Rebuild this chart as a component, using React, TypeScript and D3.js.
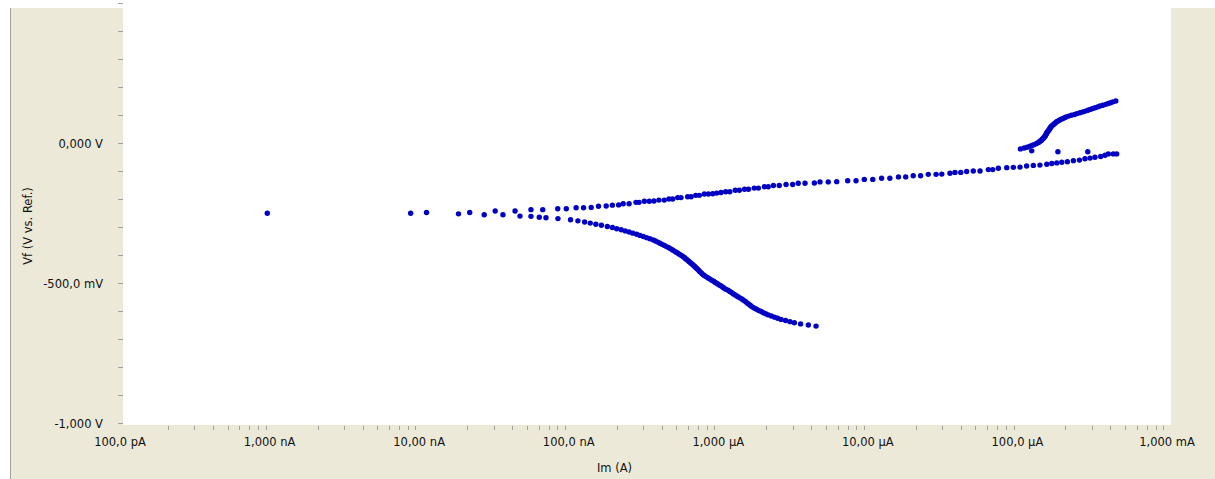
import React from "react";
import * as d3 from "d3";

// Cathodic branch (forward scan below the corrosion potential)
const cathodicCurrent = [
  9.22e-10, 8.38e-9, 1.07e-8, 1.75e-8, 2.08e-8, 2.6e-8, 3.47e-8, 4.51e-8, 5.34e-8, 6.07e-8, 6.73e-8,
  8.09e-8, 9.82e-8, 1.1e-7, 1.22e-7, 1.33e-7, 1.45e-7, 1.58e-7, 1.73e-7, 1.87e-7, 2.0e-7,
  2.14e-7, 2.28e-7, 2.42e-7, 2.56e-7, 2.72e-7, 2.86e-7, 3.01e-7, 3.17e-7, 3.33e-7, 3.51e-7,
  3.63e-7, 3.76e-7, 3.89e-7, 4.02e-7, 4.17e-7, 4.31e-7, 4.46e-7, 4.6e-7, 4.72e-7, 4.86e-7,
  4.99e-7, 5.13e-7, 5.27e-7, 5.42e-7, 5.57e-7, 5.69e-7, 5.79e-7, 5.93e-7, 6.05e-7, 6.17e-7,
  6.3e-7, 6.43e-7, 6.56e-7, 6.67e-7, 6.79e-7, 6.92e-7, 7.05e-7, 7.14e-7, 7.28e-7, 7.41e-7,
  7.55e-7, 7.73e-7, 7.94e-7, 8.18e-7, 8.39e-7, 8.63e-7, 8.89e-7, 9.12e-7, 9.38e-7, 9.62e-7,
  9.91e-7, 1.02e-6, 1.04e-6, 1.07e-6, 1.11e-6, 1.14e-6, 1.17e-6, 1.2e-6, 1.23e-6, 1.27e-6,
  1.3e-6, 1.34e-6, 1.38e-6, 1.41e-6, 1.45e-6, 1.48e-6, 1.51e-6, 1.55e-6, 1.58e-6, 1.62e-6,
  1.67e-6, 1.72e-6, 1.78e-6, 1.85e-6, 1.91e-6, 1.98e-6, 2.06e-6, 2.16e-6, 2.27e-6, 2.38e-6,
  2.51e-6, 2.69e-6, 2.88e-6, 3.08e-6, 3.39e-6, 3.82e-6, 4.3e-6,
];
const cathodicPotentialMv = [
  -251, -251, -248, -253, -248, -256, -256, -261, -262, -265, -267,
  -270, -274, -278, -282, -286, -290, -294, -298, -302, -306,
  -310, -314, -318, -322, -326, -330, -334, -338, -342, -346,
  -350, -354, -358, -362, -366, -370, -374, -378, -382, -386,
  -390, -394, -398, -402, -406, -410, -414, -418, -422, -426,
  -430, -434, -438, -442, -446, -450, -454, -458, -462, -466,
  -470, -474, -478, -482, -486, -490, -494, -498, -502, -506,
  -510, -514, -518, -522, -526, -530, -534, -538, -542, -546,
  -550, -554, -558, -562, -566, -570, -574, -578, -582, -586,
  -590, -594, -598, -602, -606, -610, -614, -618, -622, -626,
  -630, -634, -638, -642, -646, -650, -654,
];

// Anodic branch (forward scan above the corrosion potential)
const anodicCurrent = [
  3.08e-8, 4.18e-8, 5.34e-8, 6.4e-8, 8.06e-8, 9.2e-8, 1.07e-7, 1.2e-7, 1.35e-7, 1.51e-7,
  1.7e-7, 1.87e-7, 2.06e-7, 2.21e-7, 2.42e-7, 2.69e-7, 2.82e-7, 3.06e-7, 3.3e-7, 3.55e-7,
  3.83e-7, 4.16e-7, 4.47e-7, 4.73e-7, 5.11e-7, 5.38e-7, 5.96e-7, 6.28e-7, 6.75e-7, 7.13e-7,
  7.7e-7, 8.19e-7, 8.76e-7, 9.32e-7, 9.96e-7, 1.07e-6, 1.14e-6, 1.24e-6, 1.32e-6, 1.43e-6,
  1.52e-6, 1.66e-6, 1.77e-6, 1.94e-6, 2.06e-6, 2.23e-6, 2.44e-6, 2.71e-6, 3.0e-6, 3.27e-6,
  3.63e-6, 4.19e-6, 4.57e-6, 5.19e-6, 5.91e-6, 7.0e-6, 7.96e-6, 9.04e-6, 1.03e-5, 1.18e-5,
  1.34e-5, 1.53e-5, 1.71e-5, 1.92e-5, 2.15e-5, 2.42e-5, 2.73e-5, 2.98e-5, 3.38e-5, 3.65e-5,
  3.99e-5, 4.37e-5, 4.84e-5, 5.37e-5, 6.1e-5, 6.53e-5, 7.12e-5, 8.1e-5, 8.97e-5, 9.94e-5,
  1.1e-4, 1.22e-4, 1.35e-4, 1.5e-4, 1.62e-4, 1.75e-4, 1.89e-4, 2.06e-4, 2.26e-4, 2.48e-4,
  2.7e-4, 2.92e-4, 3.15e-4, 3.44e-4, 3.68e-4, 3.87e-4, 4.18e-4, 4.4e-4,
];
const anodicPotentialMv = [
  -243, -243, -238, -238, -235, -235, -231, -231, -230, -226,
  -225, -222, -221, -217, -217, -212, -212, -208, -208, -207,
  -204, -204, -200, -200, -195, -195, -192, -192, -187, -187,
  -182, -182, -181, -179, -177, -174, -174, -169, -169, -165,
  -165, -161, -161, -156, -156, -152, -152, -148, -148, -144,
  -144, -143, -139, -139, -138, -135, -135, -130, -130, -126,
  -126, -121, -121, -117, -117, -112, -112, -111, -108, -105,
  -105, -102, -100, -100, -95, -95, -90, -88, -87, -86,
  -82, -80, -79, -76, -73, -71, -69, -67, -63, -61,
  -56, -54, -51, -48, -44, -39, -39, -39,
];

// Stray readings between the two high-current branches
const strayCurrent = [1.19e-4, 1.78e-4, 2.82e-4];
const strayPotentialMv = [-28, -31, -31];

// Upper high-current branch
const upperCurrent = [
  1.0e-4, 1.06e-4, 1.11e-4, 1.15e-4, 1.19e-4, 1.23e-4, 1.27e-4, 1.3e-4, 1.33e-4, 1.35e-4,
  1.38e-4, 1.39e-4, 1.41e-4, 1.43e-4, 1.44e-4, 1.46e-4, 1.47e-4, 1.48e-4, 1.49e-4, 1.5e-4,
  1.51e-4, 1.53e-4, 1.54e-4, 1.56e-4, 1.57e-4, 1.58e-4, 1.6e-4, 1.61e-4, 1.64e-4, 1.66e-4,
  1.69e-4, 1.71e-4, 1.74e-4, 1.77e-4, 1.82e-4, 1.86e-4, 1.91e-4, 1.97e-4, 2.02e-4, 2.1e-4,
  2.19e-4, 2.3e-4, 2.39e-4, 2.5e-4, 2.61e-4, 2.72e-4, 2.83e-4, 2.93e-4, 3.04e-4, 3.16e-4,
  3.28e-4, 3.4e-4, 3.56e-4, 3.72e-4, 3.86e-4, 4.01e-4, 4.15e-4, 4.34e-4,
];
const upperPotentialMv = [
  -21, -18, -15, -12, -9, -6, -3, 0, 3, 6,
  9, 12, 15, 18, 21, 24, 27, 30, 33, 36,
  39, 42, 45, 48, 51, 54, 57, 60, 63, 66,
  69, 72, 75, 78, 81, 84, 87, 90, 93, 96,
  99, 102, 105, 108, 111, 114, 117, 120, 123, 126,
  129, 132, 135, 138, 141, 144, 147, 150,
];

// Axis labels
const xDecades = [1e-10, 1e-9, 1e-8, 1e-7, 1e-6, 1e-5, 1e-4, 1e-3];
const xDecadeLabels = ["100,0 pA", "1,000 nA", "10,00 nA", "100,0 nA", "1,000 µA", "10,00 µA", "100,0 µA", "1,000 mA"];
const yLabelValues = [0, -0.5, -1];
const yLabelTexts = ["0,000 V", "-500,0 mV", "-1,000 V"];

const W = 1215;
const H = 479;
const PANEL = "#ECE9D8";
const DOT = "#0000C4";
const FONT = "'DejaVu Sans', Verdana, sans-serif";
const FONT_SIZE = 11.5;

export default function App() {
  const x = d3.scaleLog().domain([1e-10, 1e-3]).range([123, 1170]);
  const y = d3.scaleLinear().domain([-1, 0.5]).range([423, 3]);

  // minor ticks at 2..9 within each decade
  const minorX = x.ticks().filter((t) => {
    const l = Math.log10(t);
    return Math.abs(l - Math.round(l)) > 1e-6;
  });
  const yTicks = d3.range(-10, 6).map((k) => k / 10);

  const toPoints = (cur: number[], mv: number[]) => cur.map((c, i) => [c, mv[i] / 1000] as [number, number]);
  const allPoints = [
    ...toPoints(cathodicCurrent, cathodicPotentialMv),
    ...toPoints(anodicCurrent, anodicPotentialMv),
    ...toPoints(strayCurrent, strayPotentialMv),
    ...toPoints(upperCurrent, upperPotentialMv),
  ];

  return (
    <svg
      width={W}
      height={H}
      style={{ position: "absolute", left: 0, top: 0, display: "block" }}
      fontFamily={FONT}
    >
      <rect x={0} y={0} width={W} height={H} fill="#ffffff" />
      <rect x={10} y={8} width={W - 10} height={H - 8} fill={PANEL} />
      <line x1={10.5} y1={8} x2={10.5} y2={H} stroke="#A0A0A0" strokeWidth={1} />
      <rect x={123} y={0} width={1048} height={425} fill="#ffffff" />

      {/* y axis ticks */}
      {yTicks.map((t) => (
        <line key={`yt${t}`} x1={118} x2={123} y1={Math.round(y(t)) + 0.5} y2={Math.round(y(t)) + 0.5} stroke="#A0A0A0" strokeWidth={1} />
      ))}
      {yLabelValues.map((v, i) => (
        <text key={`yl${v}`} x={103} y={y(v) + 1} textAnchor="end" dominantBaseline="central" fontSize={FONT_SIZE} fill="#111">
          {yLabelTexts[i]}
        </text>
      ))}
      <text
        transform="translate(28,226) rotate(-90)"
        textAnchor="middle"
        dominantBaseline="central"
        fontSize={FONT_SIZE}
        fill="#111"
      >
        Vf (V vs. Ref.)
      </text>

      {/* x axis ticks */}
      {minorX.map((t, i) => (
        <line key={`xt${i}`} x1={Math.round(x(t)) + 0.5} x2={Math.round(x(t)) + 0.5} y1={426} y2={430} stroke="#A0A0A0" strokeWidth={1} />
      ))}
      {xDecades.map((d, i) => (
        <text key={`xl${i}`} x={x(d) - 3} y={441.5} textAnchor="middle" dominantBaseline="central" fontSize={FONT_SIZE} fill="#111">
          {xDecadeLabels[i]}
        </text>
      ))}
      <text x={614.5} y={468} textAnchor="middle" dominantBaseline="central" fontSize={FONT_SIZE} fill="#111">
        Im (A)
      </text>

      {/* measured points */}
      <g fill={DOT}>
        {allPoints.map(([c, v], i) => (
          <circle key={i} cx={x(c)} cy={y(v)} r={2.7} />
        ))}
      </g>
    </svg>
  );
}
